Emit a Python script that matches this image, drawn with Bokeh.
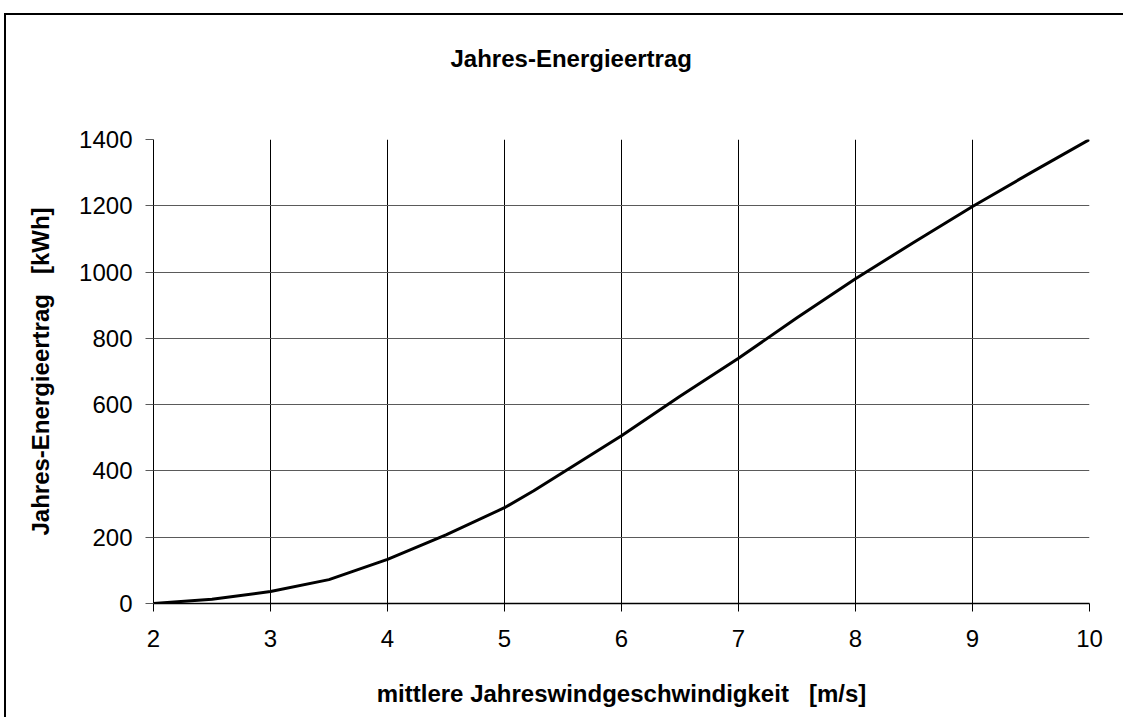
from bokeh.plotting import figure
from bokeh.models import Range1d, FixedTicker, LinearAxis
from bokeh.embed import file_html
from bokeh.resources import INLINE

# data
wind_speed = [2, 2.5, 3, 3.5, 4, 4.5, 5, 5.25, 6, 6.5, 7, 7.5, 8, 8.5, 9, 9.5, 10]
energy_kwh = [0, 13, 36, 72, 133, 207, 289, 340, 506, 625, 740, 862, 980, 1090, 1198, 1300, 1400]
x_ticks = [2, 3, 4, 5, 6, 7, 8, 9, 10]
y_ticks = [0, 200, 400, 600, 800, 1000, 1200, 1400]

SP = "\u00a0\u00a0\u00a0"
title_text = "Jahres-Energieertrag"
x_label = "mittlere Jahreswindgeschwindigkeit" + SP + "[m/s]"
y_label = "Jahres-Energieertrag" + SP + "[kWh]"

FONT = "Liberation Sans"

p = figure(width=1119, height=704, output_backend="svg", toolbar_location=None,
           x_range=Range1d(2, 10), y_range=Range1d(0, 1400),
           min_border_left=147, min_border_right=36, min_border_top=124, min_border_bottom=116)
p.styles = {"box-shadow": "-2px -2px 0px 0px black",
            "margin-left": "6px", "margin-top": "15px"}
p.outline_line_color = None
p.background_fill_color = "white"
p.border_fill_color = "white"

p.line(wind_speed, energy_kwh, line_color="black", line_width=3)

xa = p.below[0]
ya = p.left[0]

# invisible spacer between the title and the plot area
spacer = LinearAxis(ticker=FixedTicker(ticks=[2]), axis_line_color=None,
                    major_tick_line_color="white", minor_tick_line_color=None,
                    major_label_overrides={2: ""}, major_label_text_font_size="0px",
                    major_label_standoff=0, major_tick_out=63, major_tick_in=0)
p.add_layout(spacer, "above")

# title
p.title.text = title_text
p.title.align = "left"
p.title.offset = 297
p.title.text_font = FONT
p.title.text_font_size = "24px"
p.title.text_font_style = "bold"
p.title.text_color = "black"

# axes
xa.ticker = FixedTicker(ticks=x_ticks)
ya.ticker = FixedTicker(ticks=y_ticks)
for ax in (xa, ya):
    ax.major_label_text_font = FONT
    ax.major_label_text_font_size = "24px"
    ax.major_label_text_color = "black"
    ax.axis_label_text_font = FONT
    ax.axis_label_text_font_size = "24px"
    ax.axis_label_text_font_style = "bold"
    ax.axis_label_text_color = "black"
    ax.major_tick_out = 8
    ax.major_tick_in = 0
    ax.minor_tick_line_color = None
xa.axis_label = x_label
ya.axis_label = y_label
xa.axis_line_color = "black"
xa.axis_line_width = 1.5
xa.major_tick_line_color = "black"
xa.major_label_standoff = 18
xa.axis_label_standoff = 30
ya.axis_line_color = "black"
ya.major_tick_line_color = "#5a5a5a"
ya.major_label_standoff = 13
ya.axis_label_standoff = 22

# grids
p.xgrid.ticker = FixedTicker(ticks=x_ticks)
p.ygrid.ticker = FixedTicker(ticks=y_ticks)
p.xgrid.grid_line_color = "black"
p.xgrid.grid_line_width = 1
p.ygrid.grid_line_color = "#5a5a5a"
p.ygrid.grid_line_width = 1

open("out.html", "w").write(file_html(p, INLINE))
